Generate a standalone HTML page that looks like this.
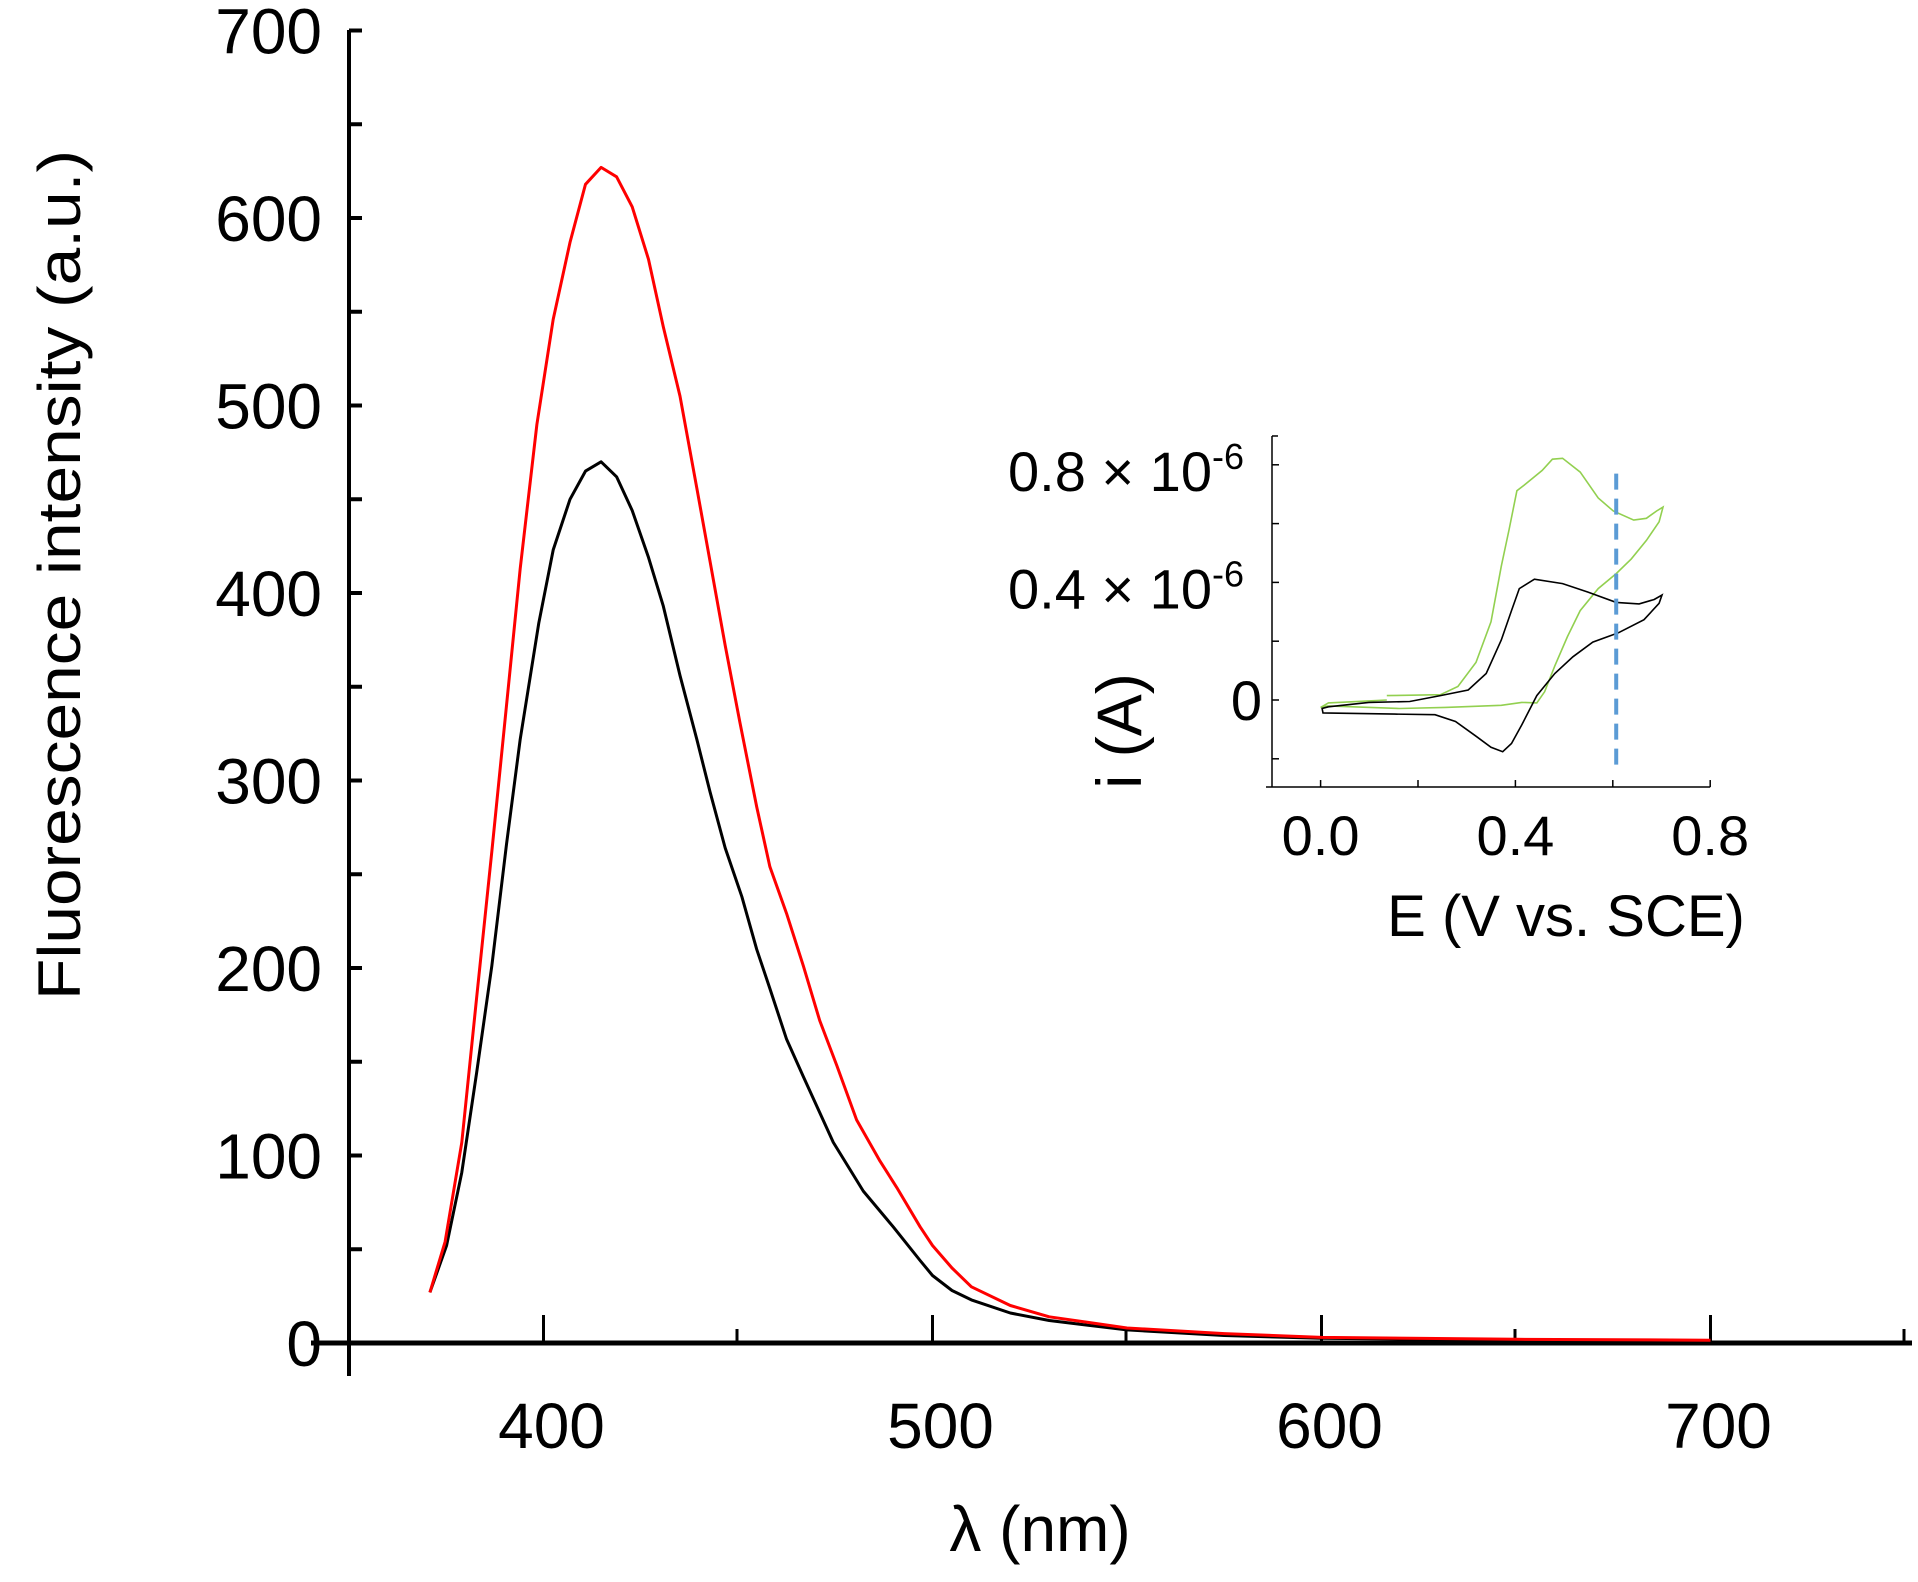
<!DOCTYPE html>
<html><head><meta charset="utf-8"><style>
html,body{margin:0;padding:0;background:#fff;}
svg{display:block;font-family:"Liberation Sans",sans-serif;}
</style></head><body>
<svg id="chart" width="1918" height="1582" viewBox="0 0 1918 1582" xmlns="http://www.w3.org/2000/svg">
<g id="main"></g>
<g id="inset"></g>
</svg>
<script>
// ---- main chart data ----
const lamRed = [370.8,374.7,379,382.8,386.7,390.5,394,398.3,402.5,406.8,410.8,414.8,418.8,422.8,427,430.8,435.1,439.4,442.8,446.7,450.5,454.8,458.2,462.5,466.8,471,475.4,480.5,486.5,490.8,496.8,500,505,510,520,530,540,550,575,600,650,700];
const valRed = [27,54,107,184,262,340,413,490,546,587,618,627,622,606,578,542,505,456,417,372,331,286,254,229,201,172,148,119,97,83,62,52,40,30,20,14,11,8,5,3,2,1.5];
const lamBlack = [370.8,375.1,379,382.8,386.7,390.5,394,398.8,402.5,406.8,410.8,414.8,418.8,422.8,427,430.8,435.1,439.4,442.8,446.7,451,454.8,458.2,462.5,466.8,474.5,482.2,489.9,496.8,500,505,510,520,530,540,550,575,600,650,700];
const valBlack = [27,52,91,144,201,266,322,384,423,450,465,470,462,444,419,393,356,322,294,264,238,210,189,162,142,107,81,62,44,36,28,23,16,12,9.5,7,4,2.5,1.5,1];
const xTicks = [400,500,600,700];
const xMinor = [450,550,650,750];
const yTicks = [0,100,200,300,400,500,600,700];
// ---- inset data ----
const eBlack = [0.016,0.099,0.183,0.246,0.303,0.340,0.371,0.392,0.408,0.439,0.497,0.549,0.607,0.654,0.685,0.701,0.695,0.664,0.612,0.559,0.518,0.481,0.444,0.413,0.392,0.374,0.350,0.319,0.277,0.235,0.152,0.005,0.003,0.016];
const iBlack = [-0.023,-0.008,-0.005,0.015,0.034,0.090,0.204,0.304,0.379,0.411,0.396,0.367,0.332,0.327,0.342,0.357,0.329,0.273,0.229,0.197,0.147,0.090,0.015,-0.085,-0.148,-0.176,-0.161,-0.123,-0.073,-0.050,-0.048,-0.044,-0.029,-0.023];
const eGreen = [0.136,0.246,0.282,0.319,0.350,0.371,0.387,0.403,0.418,0.455,0.476,0.497,0.533,0.570,0.601,0.643,0.669,0.690,0.703,0.695,0.669,0.638,0.607,0.570,0.533,0.507,0.481,0.460,0.444,0.413,0.371,0.256,0.162,0.016,0.000,0.016,0.099,0.136];
const iGreen = [0.015,0.018,0.046,0.128,0.266,0.455,0.580,0.712,0.731,0.781,0.819,0.822,0.775,0.687,0.643,0.612,0.618,0.643,0.656,0.606,0.543,0.480,0.430,0.379,0.304,0.216,0.116,0.028,-0.010,-0.008,-0.018,-0.025,-0.029,-0.020,-0.025,-0.010,-0.003,0.000];
const dashE = [0.607];
const insetXTicks = [0.0,0.4,0.8];
const insetXAll = [0.0,0.2,0.4,0.6,0.8];
const insetYTicks = [-0.2,0,0.2,0.4,0.6,0.8];

const NS = "http://www.w3.org/2000/svg";
function el(tag, attrs, parent, text){
  const e = document.createElementNS(NS, tag);
  for (const k in attrs) e.setAttribute(k, attrs[k]);
  if (text !== undefined) e.textContent = text;
  parent.appendChild(e);
  return e;
}
const X = v => 349 + (v - 350) * 3.89;
const Y = v => 1343 - v * 1.875;
const main = document.getElementById('main');

// axes
let a = el('line',{x1:349,y1:30,x2:349,y2:1376,stroke:'#000','stroke-width':4},main);


a = el('line',{x1:311,y1:1343,x2:1912,y2:1343,stroke:'#000','stroke-width':5},main);


for (let v = 0; v <= 700; v += 50) {
  const t = el('line',{x1:349,y1:Y(v),x2:362,y2:Y(v),stroke:'#000','stroke-width':4},main);
  
  
}
yTicks.forEach(v => {
  const t = el('text',{x:322,y:Y(v)+23,'font-size':64,'text-anchor':'end'},main,String(v));
  
  
});
xTicks.forEach(v => {
  const t = el('line',{x1:X(v),y1:1343,x2:X(v),y2:1315,stroke:'#000','stroke-width':3},main);
  
  
  const l = el('text',{x:X(v)+8,y:1448,'font-size':64,'text-anchor':'middle'},main,String(v));
  
  
});
xMinor.forEach(v => {
  const t = el('line',{x1:X(v)-1,y1:1343,x2:X(v)-1,y2:1329,stroke:'#000','stroke-width':3},main);
  
  
});
let tt = el('text',{x:1040,y:1551,'font-size':64,'text-anchor':'middle'},main,'λ (nm)');


tt = el('text',{x:0,y:0,'font-size':60,'text-anchor':'middle',textLength:850,lengthAdjust:'spacingAndGlyphs',transform:'translate(80,575) rotate(-90)'},main,'Fluorescence intensity (a.u.)');



function pts(xs, ys, fx, fy){ return xs.map((x,i)=>fx(x).toFixed(1)+','+fy(ys[i]).toFixed(1)).join(' '); }
let s = el('polyline',{points:pts(lamBlack,valBlack,X,Y),fill:'none',stroke:'#000','stroke-width':3,'stroke-linejoin':'round'},main);


s = el('polyline',{points:pts(lamRed,valRed,X,Y),fill:'none',stroke:'#ff0000','stroke-width':3,'stroke-linejoin':'round'},main);



// ---- inset ----
const ins = document.getElementById('inset');
const IX = e => 1320.6 + e * 487;
const IY = i => 700 - i * 294;
a = el('line',{x1:1272,y1:IY(0.898),x2:1272,y2:IY(-0.296),stroke:'#000','stroke-width':1.5},ins);


a = el('line',{x1:1266,y1:IY(-0.296),x2:IX(0.8),y2:IY(-0.296),stroke:'#000','stroke-width':1.5},ins);


el('line',{x1:1272,y1:IY(0.898),x2:1278,y2:IY(0.898),stroke:'#000','stroke-width':1.5},ins);
insetYTicks.forEach(v => {
  const t = el('line',{x1:1272,y1:IY(v),x2:1279,y2:IY(v),stroke:'#000','stroke-width':1.5},ins);
  
  
});
insetXAll.forEach(v => {
  const t = el('line',{x1:IX(v),y1:IY(-0.296),x2:IX(v),y2:IY(-0.296)-7,stroke:'#000','stroke-width':1.5},ins);
  
  
});
insetXTicks.forEach(v => {
  const t = el('text',{x:IX(v),y:855,'font-size':56,'text-anchor':'middle'},ins,v.toFixed(1));
  
  
});
function sci(val, y){
  const t = el('text',{x:1244,y:y,'font-size':56,'text-anchor':'end'},ins);
  
  
  el('tspan',{},t,val+' × 10');
  el('tspan',{'font-size':36,dy:-22},t,'-6');
}
sci('0.8', IY(0.8)+26);
sci('0.4', IY(0.4)+26);
tt = el('text',{x:1262,y:IY(0)+20,'font-size':56,'text-anchor':'end'},ins,'0');


tt = el('text',{x:1566,y:936,'font-size':58,'text-anchor':'middle'},ins,'E (V vs. SCE)');


tt = el('text',{x:0,y:0,'font-size':63,'text-anchor':'middle',transform:'translate(1141,731) rotate(-90)'},ins,'i (A)');



s = el('polyline',{points:pts(eGreen,iGreen,IX,IY),fill:'none',stroke:'#92d050','stroke-width':1.6},ins);


s = el('polyline',{points:pts(eBlack,iBlack,IX,IY),fill:'none',stroke:'#000','stroke-width':1.6},ins);


dashE.forEach(e => {
  const d = el('line',{x1:IX(e),y1:IY(0.77),x2:IX(e),y2:IY(-0.24),stroke:'#5b9bd5','stroke-width':4,'stroke-dasharray':'16 9'},ins);
  
  
});
</script>
</body></html>
